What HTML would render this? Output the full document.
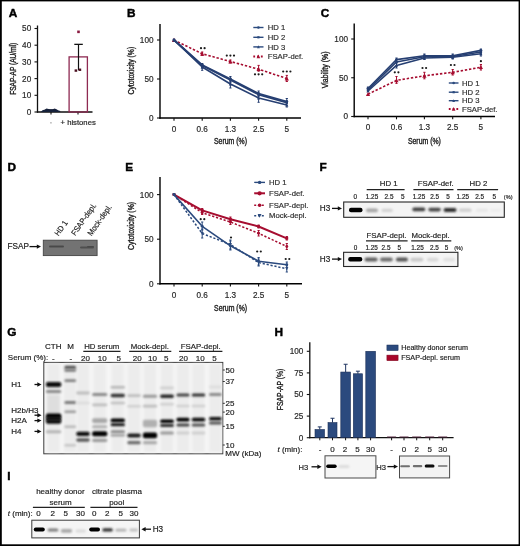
<!DOCTYPE html>
<html><head><meta charset="utf-8"><style>
html,body{margin:0;padding:0;background:#fff;}
svg{display:block;font-family:"Liberation Sans", sans-serif;will-change:transform;-webkit-font-smoothing:antialiased;}
text{stroke:#262626;stroke-width:0.18px;}
</style></head><body>
<svg width="520" height="546" viewBox="0 0 520 546">
<defs>
<filter id="b1" x="-20%" y="-100%" width="140%" height="300%"><feGaussianBlur stdDeviation="0.7"/></filter>
<filter id="b2" x="-20%" y="-100%" width="140%" height="300%"><feGaussianBlur stdDeviation="1.1"/></filter>
<filter id="b3" x="-30%" y="-100%" width="160%" height="300%"><feGaussianBlur stdDeviation="1.6"/></filter>
</defs>
<rect x="0" y="0" width="520" height="546" fill="#fff"/>
<text x="8.8" y="17.4" font-size="11.8" text-anchor="start" font-weight="bold" fill="#000" style="stroke:#000;stroke-width:0.45px">A</text>
<line x1="37.5" y1="25.5" x2="37.5" y2="112.6" stroke="#111" stroke-width="1.3" />
<line x1="34.5" y1="112.0" x2="37.5" y2="112.0" stroke="#111" stroke-width="1.1" />
<text x="31.2" y="114.91" font-size="8.2" text-anchor="end" font-weight="normal" fill="#2a2a2a" >0</text>
<line x1="34.5" y1="95.3" x2="37.5" y2="95.3" stroke="#111" stroke-width="1.1" />
<text x="31.2" y="98.21" font-size="8.2" text-anchor="end" font-weight="normal" fill="#2a2a2a" >10</text>
<line x1="34.5" y1="78.6" x2="37.5" y2="78.6" stroke="#111" stroke-width="1.1" />
<text x="31.2" y="81.51" font-size="8.2" text-anchor="end" font-weight="normal" fill="#2a2a2a" >20</text>
<line x1="34.5" y1="61.9" x2="37.5" y2="61.9" stroke="#111" stroke-width="1.1" />
<text x="31.2" y="64.81" font-size="8.2" text-anchor="end" font-weight="normal" fill="#2a2a2a" >30</text>
<line x1="34.5" y1="45.2" x2="37.5" y2="45.2" stroke="#111" stroke-width="1.1" />
<text x="31.2" y="48.11" font-size="8.2" text-anchor="end" font-weight="normal" fill="#2a2a2a" >40</text>
<line x1="34.5" y1="28.5" x2="37.5" y2="28.5" stroke="#111" stroke-width="1.1" />
<text x="31.2" y="31.41" font-size="8.2" text-anchor="end" font-weight="normal" fill="#2a2a2a" >50</text>
<line x1="36.9" y1="112" x2="92.5" y2="112" stroke="#111" stroke-width="1.3" />
<line x1="51" y1="112" x2="51" y2="114.6" stroke="#111" stroke-width="1.1" />
<line x1="78" y1="112" x2="78" y2="114.6" stroke="#111" stroke-width="1.1" />
<text x="0" y="0" font-size="8.2" text-anchor="middle" fill="#1a1a1a" style="stroke:#1a1a1a;stroke-width:0.35px" transform="translate(15.91,68.8) rotate(-90)" textLength="52" lengthAdjust="spacingAndGlyphs">FSAP-AP (AU/ml)</text>
<rect x="50.3" y="122.3" width="1.3" height="1.1" fill="#888" stroke="none" stroke-width="1" />
<text x="60.5" y="125.2" font-size="7.7" text-anchor="start" font-weight="normal" fill="#222" >+ histones</text>
<rect x="69.1" y="56.89" width="18.3" height="55.11" fill="none" stroke="#8e2a52" stroke-width="1.3" />
<line x1="78.5" y1="44.364999999999995" x2="78.5" y2="70.25" stroke="#111" stroke-width="1.2" />
<line x1="74.3" y1="44.364999999999995" x2="82.8" y2="44.364999999999995" stroke="#111" stroke-width="1.3" />
<rect x="77.2" y="30.540000000000003" width="2.6" height="2.6" fill="#8a1a40" stroke="none" stroke-width="1" />
<rect x="74.6" y="69.384" width="2.6" height="2.4" fill="#4a1020" stroke="none" stroke-width="1" />
<rect x="78.6" y="68.54899999999999" width="2.6" height="2.4" fill="#4a1020" stroke="none" stroke-width="1" />
<path d="M40.8,112 L42.5,110.2 L45,109.6 L46.5,108.6 L48.5,108.9 L50,109.6 L52.5,109.6 L54.5,108.6 L56.5,109.2 L58,110.3 L60.3,111 L60.3,112 Z" fill="#16203a" filter="url(#b1)"/>
<line x1="45.5" y1="109.8" x2="56" y2="109.8" stroke="#16203a" stroke-width="1.2" />
<text x="126.9" y="17.2" font-size="11.8" text-anchor="start" font-weight="bold" fill="#000" style="stroke:#000;stroke-width:0.45px">B</text>
<line x1="160" y1="24" x2="160" y2="118.7" stroke="#000" stroke-width="1.4" />
<line x1="159.3" y1="118" x2="301" y2="118" stroke="#000" stroke-width="1.4" />
<line x1="157" y1="118.0" x2="160" y2="118.0" stroke="#111" stroke-width="1.1" />
<text x="153.5" y="120.91" font-size="8.2" text-anchor="end" font-weight="normal" fill="#2a2a2a" >0</text>
<line x1="157" y1="79.0" x2="160" y2="79.0" stroke="#111" stroke-width="1.1" />
<text x="153.5" y="81.91" font-size="8.2" text-anchor="end" font-weight="normal" fill="#2a2a2a" >50</text>
<line x1="157" y1="40.0" x2="160" y2="40.0" stroke="#111" stroke-width="1.1" />
<text x="153.5" y="42.91" font-size="8.2" text-anchor="end" font-weight="normal" fill="#2a2a2a" >100</text>
<line x1="174" y1="118" x2="174" y2="120.8" stroke="#111" stroke-width="1.1" />
<text x="174" y="132.11" font-size="8.2" text-anchor="middle" font-weight="normal" fill="#2a2a2a" >0</text>
<line x1="202.2" y1="118" x2="202.2" y2="120.8" stroke="#111" stroke-width="1.1" />
<text x="202.2" y="132.11" font-size="8.2" text-anchor="middle" font-weight="normal" fill="#2a2a2a" >0.6</text>
<line x1="230.4" y1="118" x2="230.4" y2="120.8" stroke="#111" stroke-width="1.1" />
<text x="230.4" y="132.11" font-size="8.2" text-anchor="middle" font-weight="normal" fill="#2a2a2a" >1.3</text>
<line x1="258.6" y1="118" x2="258.6" y2="120.8" stroke="#111" stroke-width="1.1" />
<text x="258.6" y="132.11" font-size="8.2" text-anchor="middle" font-weight="normal" fill="#2a2a2a" >2.5</text>
<line x1="286.8" y1="118" x2="286.8" y2="120.8" stroke="#111" stroke-width="1.1" />
<text x="286.8" y="132.11" font-size="8.2" text-anchor="middle" font-weight="normal" fill="#2a2a2a" >5</text>
<text x="0" y="0" font-size="8.2" text-anchor="middle" fill="#1a1a1a" style="stroke:#1a1a1a;stroke-width:0.35px" transform="translate(133.71,70.7) rotate(-90)" textLength="47.8" lengthAdjust="spacingAndGlyphs">Cytotoxicity (%)</text>
<polyline points="174.00,40.00 202.20,53.80 230.40,61.50 258.60,69.20 286.80,78.50" fill="none" stroke="#a60d30" stroke-width="1.6" stroke-linejoin="round" stroke-dasharray="2.4,1.8"/>
<line x1="202.2" y1="52" x2="202.2" y2="55.5" stroke="#a60d30" stroke-width="1.0" />
<line x1="201.1" y1="52" x2="203.29999999999998" y2="52" stroke="#a60d30" stroke-width="1.0" />
<line x1="201.1" y1="55.5" x2="203.29999999999998" y2="55.5" stroke="#a60d30" stroke-width="1.0" />
<line x1="230.4" y1="60" x2="230.4" y2="63" stroke="#a60d30" stroke-width="1.0" />
<line x1="229.3" y1="60" x2="231.5" y2="60" stroke="#a60d30" stroke-width="1.0" />
<line x1="229.3" y1="63" x2="231.5" y2="63" stroke="#a60d30" stroke-width="1.0" />
<line x1="258.6" y1="65.4" x2="258.6" y2="71.2" stroke="#a60d30" stroke-width="1.0" />
<line x1="257.5" y1="65.4" x2="259.70000000000005" y2="65.4" stroke="#a60d30" stroke-width="1.0" />
<line x1="257.5" y1="71.2" x2="259.70000000000005" y2="71.2" stroke="#a60d30" stroke-width="1.0" />
<line x1="286.8" y1="75.4" x2="286.8" y2="81.5" stroke="#a60d30" stroke-width="1.0" />
<line x1="285.7" y1="75.4" x2="287.90000000000003" y2="75.4" stroke="#a60d30" stroke-width="1.0" />
<line x1="285.7" y1="81.5" x2="287.90000000000003" y2="81.5" stroke="#a60d30" stroke-width="1.0" />
<path d="M171.92,41.92 L176.08,41.92 L174.00,37.76Z" fill="#a60d30"/>
<path d="M200.12,55.72 L204.28,55.72 L202.20,51.56Z" fill="#a60d30"/>
<path d="M228.32,63.42 L232.48,63.42 L230.40,59.26Z" fill="#a60d30"/>
<path d="M256.52,71.12 L260.68,71.12 L258.60,66.96Z" fill="#a60d30"/>
<path d="M284.72,80.42 L288.88,80.42 L286.80,76.26Z" fill="#a60d30"/>
<text x="230.5" y="144.21" font-size="8.2" text-anchor="middle" fill="#1a1a1a" style="stroke:#1a1a1a;stroke-width:0.35px" textLength="33" lengthAdjust="spacingAndGlyphs">Serum (%)</text>
<polyline points="174.00,40.00 202.20,65.00 230.40,79.00 258.60,93.50 286.80,101.50" fill="none" stroke="#263f72" stroke-width="1.7" stroke-linejoin="round" />
<line x1="202.2" y1="63.5" x2="202.2" y2="68" stroke="#263f72" stroke-width="1.0" />
<line x1="201.1" y1="63.5" x2="203.29999999999998" y2="63.5" stroke="#263f72" stroke-width="1.0" />
<line x1="201.1" y1="68" x2="203.29999999999998" y2="68" stroke="#263f72" stroke-width="1.0" />
<line x1="230.4" y1="76.5" x2="230.4" y2="82" stroke="#263f72" stroke-width="1.0" />
<line x1="229.3" y1="76.5" x2="231.5" y2="76.5" stroke="#263f72" stroke-width="1.0" />
<line x1="229.3" y1="82" x2="231.5" y2="82" stroke="#263f72" stroke-width="1.0" />
<line x1="258.6" y1="91" x2="258.6" y2="96" stroke="#263f72" stroke-width="1.0" />
<line x1="257.5" y1="91" x2="259.70000000000005" y2="91" stroke="#263f72" stroke-width="1.0" />
<line x1="257.5" y1="96" x2="259.70000000000005" y2="96" stroke="#263f72" stroke-width="1.0" />
<line x1="286.8" y1="98.5" x2="286.8" y2="103" stroke="#263f72" stroke-width="1.0" />
<line x1="285.7" y1="98.5" x2="287.90000000000003" y2="98.5" stroke="#263f72" stroke-width="1.0" />
<line x1="285.7" y1="103" x2="287.90000000000003" y2="103" stroke="#263f72" stroke-width="1.0" />
<circle cx="174" cy="40" r="1.44" fill="#263f72"/>
<circle cx="202.2" cy="65" r="1.44" fill="#263f72"/>
<circle cx="230.4" cy="79" r="1.44" fill="#263f72"/>
<circle cx="258.6" cy="93.5" r="1.44" fill="#263f72"/>
<circle cx="286.8" cy="101.5" r="1.44" fill="#263f72"/>
<polyline points="174.00,40.00 202.20,65.60 230.40,79.90 258.60,94.60 286.80,102.60" fill="none" stroke="#263f72" stroke-width="1.7" stroke-linejoin="round" />
<rect x="172.80" y="38.80" width="2.4" height="2.4" fill="#263f72"/>
<rect x="201.00" y="64.40" width="2.4" height="2.4" fill="#263f72"/>
<rect x="229.20" y="78.70" width="2.4" height="2.4" fill="#263f72"/>
<rect x="257.40" y="93.40" width="2.4" height="2.4" fill="#263f72"/>
<rect x="285.60" y="101.40" width="2.4" height="2.4" fill="#263f72"/>
<polyline points="174.00,40.00 202.20,67.00 230.40,84.00 258.60,98.00 286.80,105.00" fill="none" stroke="#263f72" stroke-width="1.6" stroke-linejoin="round" />
<line x1="202.2" y1="65" x2="202.2" y2="70.3" stroke="#263f72" stroke-width="1.0" />
<line x1="201.1" y1="65" x2="203.29999999999998" y2="65" stroke="#263f72" stroke-width="1.0" />
<line x1="201.1" y1="70.3" x2="203.29999999999998" y2="70.3" stroke="#263f72" stroke-width="1.0" />
<line x1="230.4" y1="82" x2="230.4" y2="88" stroke="#263f72" stroke-width="1.0" />
<line x1="229.3" y1="82" x2="231.5" y2="82" stroke="#263f72" stroke-width="1.0" />
<line x1="229.3" y1="88" x2="231.5" y2="88" stroke="#263f72" stroke-width="1.0" />
<line x1="258.6" y1="96" x2="258.6" y2="102.3" stroke="#263f72" stroke-width="1.0" />
<line x1="257.5" y1="96" x2="259.70000000000005" y2="96" stroke="#263f72" stroke-width="1.0" />
<line x1="257.5" y1="102.3" x2="259.70000000000005" y2="102.3" stroke="#263f72" stroke-width="1.0" />
<line x1="286.8" y1="102" x2="286.8" y2="107" stroke="#263f72" stroke-width="1.0" />
<line x1="285.7" y1="102" x2="287.90000000000003" y2="102" stroke="#263f72" stroke-width="1.0" />
<line x1="285.7" y1="107" x2="287.90000000000003" y2="107" stroke="#263f72" stroke-width="1.0" />
<path d="M172.44,41.44 L175.56,41.44 L174.00,38.32Z" fill="#263f72"/>
<path d="M200.64,68.44 L203.76,68.44 L202.20,65.32Z" fill="#263f72"/>
<path d="M228.84,85.44 L231.96,85.44 L230.40,82.32Z" fill="#263f72"/>
<path d="M257.04,99.44 L260.16,99.44 L258.60,96.32Z" fill="#263f72"/>
<path d="M285.24,106.44 L288.36,106.44 L286.80,103.32Z" fill="#263f72"/>
<circle cx="201.00" cy="48.2" r="1.1" fill="#1a1a1a"/>
<circle cx="204.60" cy="48.2" r="1.1" fill="#1a1a1a"/>
<circle cx="226.80" cy="55.6" r="1.1" fill="#1a1a1a"/>
<circle cx="230.40" cy="55.6" r="1.1" fill="#1a1a1a"/>
<circle cx="234.00" cy="55.6" r="1.1" fill="#1a1a1a"/>
<circle cx="255.00" cy="74.3" r="1.1" fill="#1a1a1a"/>
<circle cx="258.60" cy="74.3" r="1.1" fill="#1a1a1a"/>
<circle cx="262.20" cy="74.3" r="1.1" fill="#1a1a1a"/>
<circle cx="283.20" cy="71.5" r="1.1" fill="#1a1a1a"/>
<circle cx="286.80" cy="71.5" r="1.1" fill="#1a1a1a"/>
<circle cx="290.40" cy="71.5" r="1.1" fill="#1a1a1a"/>
<line x1="253.3" y1="27.5" x2="263.5" y2="27.5" stroke="#2b4a7e" stroke-width="1.4" />
<circle cx="258.4" cy="27.5" r="1.32" fill="#2b4a7e"/>
<text x="267.8" y="30.23" font-size="7.7" text-anchor="start" font-weight="normal" fill="#333" >HD 1</text>
<line x1="253.3" y1="37.3" x2="263.5" y2="37.3" stroke="#2b4a7e" stroke-width="1.4" />
<rect x="257.30" y="36.20" width="2.2" height="2.2" fill="#2b4a7e"/>
<text x="267.8" y="40.03" font-size="7.7" text-anchor="start" font-weight="normal" fill="#333" >HD 2</text>
<line x1="253.3" y1="46.9" x2="263.5" y2="46.9" stroke="#2b4a7e" stroke-width="1.4" />
<path d="M256.97,48.22 L259.83,48.22 L258.40,45.36Z" fill="#2b4a7e"/>
<text x="267.8" y="49.63" font-size="7.7" text-anchor="start" font-weight="normal" fill="#333" >HD 3</text>
<line x1="253.3" y1="56.5" x2="263.5" y2="56.5" stroke="#a60d30" stroke-width="1.8" stroke-dasharray="1.8,2"/>
<path d="M256.58,58.18 L260.22,58.18 L258.40,54.54Z" fill="#a60d30"/>
<text x="267.8" y="59.23" font-size="7.7" text-anchor="start" font-weight="normal" fill="#333" >FSAP-def.</text>
<text x="320.8" y="17.3" font-size="11.8" text-anchor="start" font-weight="bold" fill="#000" style="stroke:#000;stroke-width:0.45px">C</text>
<line x1="354.2" y1="23.5" x2="354.2" y2="117.2" stroke="#000" stroke-width="1.4" />
<line x1="353.5" y1="116.5" x2="495" y2="116.5" stroke="#000" stroke-width="1.4" />
<line x1="351.2" y1="116.5" x2="354.2" y2="116.5" stroke="#111" stroke-width="1.1" />
<text x="348" y="119.41" font-size="8.2" text-anchor="end" font-weight="normal" fill="#2a2a2a" >0</text>
<line x1="351.2" y1="77.75" x2="354.2" y2="77.75" stroke="#111" stroke-width="1.1" />
<text x="348" y="80.66" font-size="8.2" text-anchor="end" font-weight="normal" fill="#2a2a2a" >50</text>
<line x1="351.2" y1="39.0" x2="354.2" y2="39.0" stroke="#111" stroke-width="1.1" />
<text x="348" y="41.91" font-size="8.2" text-anchor="end" font-weight="normal" fill="#2a2a2a" >100</text>
<line x1="368" y1="116.5" x2="368" y2="119.3" stroke="#111" stroke-width="1.1" />
<text x="368" y="130.31" font-size="8.2" text-anchor="middle" font-weight="normal" fill="#2a2a2a" >0</text>
<line x1="396.5" y1="116.5" x2="396.5" y2="119.3" stroke="#111" stroke-width="1.1" />
<text x="396.5" y="130.31" font-size="8.2" text-anchor="middle" font-weight="normal" fill="#2a2a2a" >0.6</text>
<line x1="424.4" y1="116.5" x2="424.4" y2="119.3" stroke="#111" stroke-width="1.1" />
<text x="424.4" y="130.31" font-size="8.2" text-anchor="middle" font-weight="normal" fill="#2a2a2a" >1.3</text>
<line x1="452.7" y1="116.5" x2="452.7" y2="119.3" stroke="#111" stroke-width="1.1" />
<text x="452.7" y="130.31" font-size="8.2" text-anchor="middle" font-weight="normal" fill="#2a2a2a" >2.5</text>
<line x1="480.9" y1="116.5" x2="480.9" y2="119.3" stroke="#111" stroke-width="1.1" />
<text x="480.9" y="130.31" font-size="8.2" text-anchor="middle" font-weight="normal" fill="#2a2a2a" >5</text>
<text x="0" y="0" font-size="8.2" text-anchor="middle" fill="#1a1a1a" style="stroke:#1a1a1a;stroke-width:0.35px" transform="translate(328.01,69.8) rotate(-90)" textLength="37" lengthAdjust="spacingAndGlyphs">Viability (%)</text>
<text x="424.4" y="144.21" font-size="8.2" text-anchor="middle" fill="#1a1a1a" style="stroke:#1a1a1a;stroke-width:0.35px" textLength="33" lengthAdjust="spacingAndGlyphs">Serum (%)</text>
<polyline points="368.00,88.50 396.50,59.60 424.40,55.70 452.70,55.70 480.90,50.40" fill="none" stroke="#263f72" stroke-width="1.6" stroke-linejoin="round" />
<line x1="368" y1="87" x2="368" y2="91" stroke="#263f72" stroke-width="1.0" />
<line x1="366.9" y1="87" x2="369.1" y2="87" stroke="#263f72" stroke-width="1.0" />
<line x1="366.9" y1="91" x2="369.1" y2="91" stroke="#263f72" stroke-width="1.0" />
<line x1="396.5" y1="58" x2="396.5" y2="62" stroke="#263f72" stroke-width="1.0" />
<line x1="395.4" y1="58" x2="397.6" y2="58" stroke="#263f72" stroke-width="1.0" />
<line x1="395.4" y1="62" x2="397.6" y2="62" stroke="#263f72" stroke-width="1.0" />
<line x1="424.4" y1="54" x2="424.4" y2="58" stroke="#263f72" stroke-width="1.0" />
<line x1="423.29999999999995" y1="54" x2="425.5" y2="54" stroke="#263f72" stroke-width="1.0" />
<line x1="423.29999999999995" y1="58" x2="425.5" y2="58" stroke="#263f72" stroke-width="1.0" />
<line x1="452.7" y1="54" x2="452.7" y2="58" stroke="#263f72" stroke-width="1.0" />
<line x1="451.59999999999997" y1="54" x2="453.8" y2="54" stroke="#263f72" stroke-width="1.0" />
<line x1="451.59999999999997" y1="58" x2="453.8" y2="58" stroke="#263f72" stroke-width="1.0" />
<line x1="480.9" y1="49" x2="480.9" y2="54" stroke="#263f72" stroke-width="1.0" />
<line x1="479.79999999999995" y1="49" x2="482.0" y2="49" stroke="#263f72" stroke-width="1.0" />
<line x1="479.79999999999995" y1="54" x2="482.0" y2="54" stroke="#263f72" stroke-width="1.0" />
<circle cx="368" cy="88.5" r="1.44" fill="#263f72"/>
<circle cx="396.5" cy="59.6" r="1.44" fill="#263f72"/>
<circle cx="424.4" cy="55.7" r="1.44" fill="#263f72"/>
<circle cx="452.7" cy="55.7" r="1.44" fill="#263f72"/>
<circle cx="480.9" cy="50.4" r="1.44" fill="#263f72"/>
<polyline points="368.00,89.80 396.50,62.00 424.40,56.80 452.70,56.50 480.90,52.00" fill="none" stroke="#263f72" stroke-width="1.6" stroke-linejoin="round" />
<rect x="366.80" y="88.60" width="2.4" height="2.4" fill="#263f72"/>
<rect x="395.30" y="60.80" width="2.4" height="2.4" fill="#263f72"/>
<rect x="423.20" y="55.60" width="2.4" height="2.4" fill="#263f72"/>
<rect x="451.50" y="55.30" width="2.4" height="2.4" fill="#263f72"/>
<rect x="479.70" y="50.80" width="2.4" height="2.4" fill="#263f72"/>
<polyline points="368.00,91.00 396.50,65.40 424.40,58.00 452.70,57.30 480.90,53.80" fill="none" stroke="#263f72" stroke-width="1.6" stroke-linejoin="round" />
<line x1="396.5" y1="63" x2="396.5" y2="68" stroke="#263f72" stroke-width="1.0" />
<line x1="395.4" y1="63" x2="397.6" y2="63" stroke="#263f72" stroke-width="1.0" />
<line x1="395.4" y1="68" x2="397.6" y2="68" stroke="#263f72" stroke-width="1.0" />
<line x1="424.4" y1="56" x2="424.4" y2="59.5" stroke="#263f72" stroke-width="1.0" />
<line x1="423.29999999999995" y1="56" x2="425.5" y2="56" stroke="#263f72" stroke-width="1.0" />
<line x1="423.29999999999995" y1="59.5" x2="425.5" y2="59.5" stroke="#263f72" stroke-width="1.0" />
<line x1="452.7" y1="55.5" x2="452.7" y2="59" stroke="#263f72" stroke-width="1.0" />
<line x1="451.59999999999997" y1="55.5" x2="453.8" y2="55.5" stroke="#263f72" stroke-width="1.0" />
<line x1="451.59999999999997" y1="59" x2="453.8" y2="59" stroke="#263f72" stroke-width="1.0" />
<line x1="480.9" y1="51" x2="480.9" y2="56" stroke="#263f72" stroke-width="1.0" />
<line x1="479.79999999999995" y1="51" x2="482.0" y2="51" stroke="#263f72" stroke-width="1.0" />
<line x1="479.79999999999995" y1="56" x2="482.0" y2="56" stroke="#263f72" stroke-width="1.0" />
<path d="M366.44,92.44 L369.56,92.44 L368.00,89.32Z" fill="#263f72"/>
<path d="M394.94,66.84 L398.06,66.84 L396.50,63.72Z" fill="#263f72"/>
<path d="M422.84,59.44 L425.96,59.44 L424.40,56.32Z" fill="#263f72"/>
<path d="M451.14,58.74 L454.26,58.74 L452.70,55.62Z" fill="#263f72"/>
<path d="M479.34,55.24 L482.46,55.24 L480.90,52.12Z" fill="#263f72"/>
<polyline points="368.00,94.20 396.50,80.40 424.40,75.80 452.70,72.30 480.90,67.20" fill="none" stroke="#a60d30" stroke-width="1.6" stroke-linejoin="round" stroke-dasharray="2.4,1.8"/>
<line x1="396.5" y1="76.5" x2="396.5" y2="83.4" stroke="#a60d30" stroke-width="1.0" />
<line x1="395.4" y1="76.5" x2="397.6" y2="76.5" stroke="#a60d30" stroke-width="1.0" />
<line x1="395.4" y1="83.4" x2="397.6" y2="83.4" stroke="#a60d30" stroke-width="1.0" />
<line x1="424.4" y1="72.3" x2="424.4" y2="78.8" stroke="#a60d30" stroke-width="1.0" />
<line x1="423.29999999999995" y1="72.3" x2="425.5" y2="72.3" stroke="#a60d30" stroke-width="1.0" />
<line x1="423.29999999999995" y1="78.8" x2="425.5" y2="78.8" stroke="#a60d30" stroke-width="1.0" />
<line x1="452.7" y1="69.5" x2="452.7" y2="75" stroke="#a60d30" stroke-width="1.0" />
<line x1="451.59999999999997" y1="69.5" x2="453.8" y2="69.5" stroke="#a60d30" stroke-width="1.0" />
<line x1="451.59999999999997" y1="75" x2="453.8" y2="75" stroke="#a60d30" stroke-width="1.0" />
<line x1="480.9" y1="64.5" x2="480.9" y2="70" stroke="#a60d30" stroke-width="1.0" />
<line x1="479.79999999999995" y1="64.5" x2="482.0" y2="64.5" stroke="#a60d30" stroke-width="1.0" />
<line x1="479.79999999999995" y1="70" x2="482.0" y2="70" stroke="#a60d30" stroke-width="1.0" />
<path d="M365.92,96.12 L370.08,96.12 L368.00,91.96Z" fill="#a60d30"/>
<path d="M394.42,82.32 L398.58,82.32 L396.50,78.16Z" fill="#a60d30"/>
<path d="M422.32,77.72 L426.48,77.72 L424.40,73.56Z" fill="#a60d30"/>
<path d="M450.62,74.22 L454.78,74.22 L452.70,70.06Z" fill="#a60d30"/>
<path d="M478.82,69.12 L482.98,69.12 L480.90,64.96Z" fill="#a60d30"/>
<circle cx="394.80" cy="72.3" r="1.1" fill="#1a1a1a"/>
<circle cx="398.40" cy="72.3" r="1.1" fill="#1a1a1a"/>
<circle cx="422.50" cy="68" r="1.1" fill="#1a1a1a"/>
<circle cx="426.10" cy="68" r="1.1" fill="#1a1a1a"/>
<circle cx="450.90" cy="65" r="1.1" fill="#1a1a1a"/>
<circle cx="454.50" cy="65" r="1.1" fill="#1a1a1a"/>
<circle cx="480.90" cy="61.2" r="1.1" fill="#1a1a1a"/>
<line x1="448.8" y1="83.0" x2="458.5" y2="83.0" stroke="#2b4a7e" stroke-width="1.4" />
<circle cx="453.65" cy="83.0" r="1.32" fill="#2b4a7e"/>
<text x="462" y="85.73" font-size="7.7" text-anchor="start" font-weight="normal" fill="#333" >HD 1</text>
<line x1="448.8" y1="92.2" x2="458.5" y2="92.2" stroke="#2b4a7e" stroke-width="1.4" />
<rect x="452.55" y="91.10" width="2.2" height="2.2" fill="#2b4a7e"/>
<text x="462" y="94.93" font-size="7.7" text-anchor="start" font-weight="normal" fill="#333" >HD 2</text>
<line x1="448.8" y1="100.7" x2="458.5" y2="100.7" stroke="#2b4a7e" stroke-width="1.4" />
<path d="M452.22,102.02 L455.08,102.02 L453.65,99.16Z" fill="#2b4a7e"/>
<text x="462" y="103.43" font-size="7.7" text-anchor="start" font-weight="normal" fill="#333" >HD 3</text>
<line x1="448.8" y1="109.0" x2="458.5" y2="109.0" stroke="#a60d30" stroke-width="1.8" stroke-dasharray="1.8,2"/>
<path d="M451.83,110.68 L455.47,110.68 L453.65,107.04Z" fill="#a60d30"/>
<text x="462" y="111.73" font-size="7.7" text-anchor="start" font-weight="normal" fill="#333" >FSAP-def.</text>
<text x="125.2" y="170.6" font-size="11.8" text-anchor="start" font-weight="bold" fill="#000" style="stroke:#000;stroke-width:0.45px">E</text>
<line x1="160" y1="177" x2="160" y2="284.5" stroke="#000" stroke-width="1.4" />
<line x1="159.3" y1="283.8" x2="302" y2="283.8" stroke="#000" stroke-width="1.4" />
<line x1="157" y1="283.8" x2="160" y2="283.8" stroke="#111" stroke-width="1.1" />
<text x="153.5" y="286.71" font-size="8.2" text-anchor="end" font-weight="normal" fill="#2a2a2a" >0</text>
<line x1="157" y1="239.20000000000002" x2="160" y2="239.20000000000002" stroke="#111" stroke-width="1.1" />
<text x="153.5" y="242.11" font-size="8.2" text-anchor="end" font-weight="normal" fill="#2a2a2a" >50</text>
<line x1="157" y1="194.60000000000002" x2="160" y2="194.60000000000002" stroke="#111" stroke-width="1.1" />
<text x="153.5" y="197.51" font-size="8.2" text-anchor="end" font-weight="normal" fill="#2a2a2a" >100</text>
<line x1="174" y1="283.8" x2="174" y2="286.6" stroke="#111" stroke-width="1.1" />
<text x="174" y="297.51" font-size="8.2" text-anchor="middle" font-weight="normal" fill="#2a2a2a" >0</text>
<line x1="202.2" y1="283.8" x2="202.2" y2="286.6" stroke="#111" stroke-width="1.1" />
<text x="202.2" y="297.51" font-size="8.2" text-anchor="middle" font-weight="normal" fill="#2a2a2a" >0.6</text>
<line x1="230.4" y1="283.8" x2="230.4" y2="286.6" stroke="#111" stroke-width="1.1" />
<text x="230.4" y="297.51" font-size="8.2" text-anchor="middle" font-weight="normal" fill="#2a2a2a" >1.3</text>
<line x1="258.6" y1="283.8" x2="258.6" y2="286.6" stroke="#111" stroke-width="1.1" />
<text x="258.6" y="297.51" font-size="8.2" text-anchor="middle" font-weight="normal" fill="#2a2a2a" >2.5</text>
<line x1="286.8" y1="283.8" x2="286.8" y2="286.6" stroke="#111" stroke-width="1.1" />
<text x="286.8" y="297.51" font-size="8.2" text-anchor="middle" font-weight="normal" fill="#2a2a2a" >5</text>
<text x="0" y="0" font-size="8.2" text-anchor="middle" fill="#1a1a1a" style="stroke:#1a1a1a;stroke-width:0.35px" transform="translate(133.51,225.9) rotate(-90)" textLength="48" lengthAdjust="spacingAndGlyphs">Cytotoxicity (%)</text>
<text x="230.6" y="310.71" font-size="8.2" text-anchor="middle" fill="#1a1a1a" style="stroke:#1a1a1a;stroke-width:0.35px" textLength="33" lengthAdjust="spacingAndGlyphs">Serum (%)</text>
<polyline points="174.00,194.60 202.20,210.40 230.40,219.20 258.60,226.50 286.80,238.30" fill="none" stroke="#a60d30" stroke-width="2.0" stroke-linejoin="round" />
<line x1="202.2" y1="208.5" x2="202.2" y2="212.5" stroke="#a60d30" stroke-width="1.0" />
<line x1="201.1" y1="208.5" x2="203.29999999999998" y2="208.5" stroke="#a60d30" stroke-width="1.0" />
<line x1="201.1" y1="212.5" x2="203.29999999999998" y2="212.5" stroke="#a60d30" stroke-width="1.0" />
<line x1="230.4" y1="217" x2="230.4" y2="221.5" stroke="#a60d30" stroke-width="1.0" />
<line x1="229.3" y1="217" x2="231.5" y2="217" stroke="#a60d30" stroke-width="1.0" />
<line x1="229.3" y1="221.5" x2="231.5" y2="221.5" stroke="#a60d30" stroke-width="1.0" />
<line x1="258.6" y1="225" x2="258.6" y2="228" stroke="#a60d30" stroke-width="1.0" />
<line x1="257.5" y1="225" x2="259.70000000000005" y2="225" stroke="#a60d30" stroke-width="1.0" />
<line x1="257.5" y1="228" x2="259.70000000000005" y2="228" stroke="#a60d30" stroke-width="1.0" />
<line x1="286.8" y1="236.5" x2="286.8" y2="240" stroke="#a60d30" stroke-width="1.0" />
<line x1="285.7" y1="236.5" x2="287.90000000000003" y2="236.5" stroke="#a60d30" stroke-width="1.0" />
<line x1="285.7" y1="240" x2="287.90000000000003" y2="240" stroke="#a60d30" stroke-width="1.0" />
<rect x="172.60" y="193.20" width="2.8" height="2.8" fill="#a60d30"/>
<rect x="200.80" y="209.00" width="2.8" height="2.8" fill="#a60d30"/>
<rect x="229.00" y="217.80" width="2.8" height="2.8" fill="#a60d30"/>
<rect x="257.20" y="225.10" width="2.8" height="2.8" fill="#a60d30"/>
<rect x="285.40" y="236.90" width="2.8" height="2.8" fill="#a60d30"/>
<polyline points="174.00,194.60 202.20,212.70 230.40,222.00 258.60,233.30 286.80,246.50" fill="none" stroke="#a60d30" stroke-width="1.5" stroke-linejoin="round" stroke-dasharray="2.2,1.8"/>
<line x1="202.2" y1="211" x2="202.2" y2="214.5" stroke="#a60d30" stroke-width="1.0" />
<line x1="201.1" y1="211" x2="203.29999999999998" y2="211" stroke="#a60d30" stroke-width="1.0" />
<line x1="201.1" y1="214.5" x2="203.29999999999998" y2="214.5" stroke="#a60d30" stroke-width="1.0" />
<line x1="230.4" y1="220" x2="230.4" y2="224.5" stroke="#a60d30" stroke-width="1.0" />
<line x1="229.3" y1="220" x2="231.5" y2="220" stroke="#a60d30" stroke-width="1.0" />
<line x1="229.3" y1="224.5" x2="231.5" y2="224.5" stroke="#a60d30" stroke-width="1.0" />
<line x1="258.6" y1="230.5" x2="258.6" y2="236" stroke="#a60d30" stroke-width="1.0" />
<line x1="257.5" y1="230.5" x2="259.70000000000005" y2="230.5" stroke="#a60d30" stroke-width="1.0" />
<line x1="257.5" y1="236" x2="259.70000000000005" y2="236" stroke="#a60d30" stroke-width="1.0" />
<line x1="286.8" y1="243.5" x2="286.8" y2="249.5" stroke="#a60d30" stroke-width="1.0" />
<line x1="285.7" y1="243.5" x2="287.90000000000003" y2="243.5" stroke="#a60d30" stroke-width="1.0" />
<line x1="285.7" y1="249.5" x2="287.90000000000003" y2="249.5" stroke="#a60d30" stroke-width="1.0" />
<circle cx="174" cy="194.6" r="1.44" fill="#a60d30"/>
<circle cx="202.2" cy="212.7" r="1.44" fill="#a60d30"/>
<circle cx="230.4" cy="222" r="1.44" fill="#a60d30"/>
<circle cx="258.6" cy="233.3" r="1.44" fill="#a60d30"/>
<circle cx="286.8" cy="246.5" r="1.44" fill="#a60d30"/>
<polyline points="174.00,194.60 202.20,226.30 230.40,245.80 258.60,261.20 286.80,264.70" fill="none" stroke="#2b4a7e" stroke-width="1.6" stroke-linejoin="round" />
<line x1="202.2" y1="222" x2="202.2" y2="230" stroke="#2b4a7e" stroke-width="1.0" />
<line x1="201.1" y1="222" x2="203.29999999999998" y2="222" stroke="#2b4a7e" stroke-width="1.0" />
<line x1="201.1" y1="230" x2="203.29999999999998" y2="230" stroke="#2b4a7e" stroke-width="1.0" />
<line x1="230.4" y1="241" x2="230.4" y2="250" stroke="#2b4a7e" stroke-width="1.0" />
<line x1="229.3" y1="241" x2="231.5" y2="241" stroke="#2b4a7e" stroke-width="1.0" />
<line x1="229.3" y1="250" x2="231.5" y2="250" stroke="#2b4a7e" stroke-width="1.0" />
<line x1="258.6" y1="257.5" x2="258.6" y2="265" stroke="#2b4a7e" stroke-width="1.0" />
<line x1="257.5" y1="257.5" x2="259.70000000000005" y2="257.5" stroke="#2b4a7e" stroke-width="1.0" />
<line x1="257.5" y1="265" x2="259.70000000000005" y2="265" stroke="#2b4a7e" stroke-width="1.0" />
<line x1="286.8" y1="262" x2="286.8" y2="267.5" stroke="#2b4a7e" stroke-width="1.0" />
<line x1="285.7" y1="262" x2="287.90000000000003" y2="262" stroke="#2b4a7e" stroke-width="1.0" />
<line x1="285.7" y1="267.5" x2="287.90000000000003" y2="267.5" stroke="#2b4a7e" stroke-width="1.0" />
<circle cx="174" cy="194.6" r="1.44" fill="#2b4a7e"/>
<circle cx="202.2" cy="226.3" r="1.44" fill="#2b4a7e"/>
<circle cx="230.4" cy="245.8" r="1.44" fill="#2b4a7e"/>
<circle cx="258.6" cy="261.2" r="1.44" fill="#2b4a7e"/>
<circle cx="286.8" cy="264.7" r="1.44" fill="#2b4a7e"/>
<polyline points="174.00,194.60 202.20,233.50 230.40,244.50 258.60,262.60 286.80,268.80" fill="none" stroke="#2b4a7e" stroke-width="1.5" stroke-linejoin="round" stroke-dasharray="2.2,1.8"/>
<line x1="202.2" y1="229" x2="202.2" y2="238" stroke="#2b4a7e" stroke-width="1.0" />
<line x1="201.1" y1="229" x2="203.29999999999998" y2="229" stroke="#2b4a7e" stroke-width="1.0" />
<line x1="201.1" y1="238" x2="203.29999999999998" y2="238" stroke="#2b4a7e" stroke-width="1.0" />
<line x1="230.4" y1="240" x2="230.4" y2="249" stroke="#2b4a7e" stroke-width="1.0" />
<line x1="229.3" y1="240" x2="231.5" y2="240" stroke="#2b4a7e" stroke-width="1.0" />
<line x1="229.3" y1="249" x2="231.5" y2="249" stroke="#2b4a7e" stroke-width="1.0" />
<line x1="258.6" y1="259" x2="258.6" y2="266" stroke="#2b4a7e" stroke-width="1.0" />
<line x1="257.5" y1="259" x2="259.70000000000005" y2="259" stroke="#2b4a7e" stroke-width="1.0" />
<line x1="257.5" y1="266" x2="259.70000000000005" y2="266" stroke="#2b4a7e" stroke-width="1.0" />
<line x1="286.8" y1="265" x2="286.8" y2="272" stroke="#2b4a7e" stroke-width="1.0" />
<line x1="285.7" y1="265" x2="287.90000000000003" y2="265" stroke="#2b4a7e" stroke-width="1.0" />
<line x1="285.7" y1="272" x2="287.90000000000003" y2="272" stroke="#2b4a7e" stroke-width="1.0" />
<path d="M172.44,193.16 L175.56,193.16 L174.00,196.28Z" fill="#2b4a7e"/>
<path d="M200.64,232.06 L203.76,232.06 L202.20,235.18Z" fill="#2b4a7e"/>
<path d="M228.84,243.06 L231.96,243.06 L230.40,246.18Z" fill="#2b4a7e"/>
<path d="M257.04,261.16 L260.16,261.16 L258.60,264.28Z" fill="#2b4a7e"/>
<path d="M285.24,267.36 L288.36,267.36 L286.80,270.48Z" fill="#2b4a7e"/>
<circle cx="200.70" cy="219.2" r="1.1" fill="#1a1a1a"/>
<circle cx="204.30" cy="219.2" r="1.1" fill="#1a1a1a"/>
<circle cx="231.00" cy="237.5" r="1.1" fill="#1a1a1a"/>
<circle cx="257.20" cy="251.5" r="1.1" fill="#1a1a1a"/>
<circle cx="260.80" cy="251.5" r="1.1" fill="#1a1a1a"/>
<circle cx="285.70" cy="259" r="1.1" fill="#1a1a1a"/>
<circle cx="289.30" cy="259" r="1.1" fill="#1a1a1a"/>
<line x1="254.2" y1="182.4" x2="265" y2="182.4" stroke="#2b4a7e" stroke-width="1.4" />
<circle cx="259.6" cy="182.4" r="1.68" fill="#2b4a7e"/>
<text x="269" y="185.13" font-size="7.7" text-anchor="start" font-weight="normal" fill="#333" >HD 1</text>
<line x1="254.2" y1="193.3" x2="265" y2="193.3" stroke="#a60d30" stroke-width="2.0" />
<circle cx="259.6" cy="193.3" r="2.16" fill="#a60d30"/>
<text x="269" y="196.03" font-size="7.7" text-anchor="start" font-weight="normal" fill="#333" >FSAP-def.</text>
<line x1="254.2" y1="205.2" x2="265" y2="205.2" stroke="#a60d30" stroke-width="1.6" stroke-dasharray="2,1.8"/>
<circle cx="259.6" cy="205.2" r="1.80" fill="#a60d30"/>
<text x="269" y="207.93" font-size="7.7" text-anchor="start" font-weight="normal" fill="#333" >FSAP-depl.</text>
<line x1="254.2" y1="215.7" x2="265" y2="215.7" stroke="#2b4a7e" stroke-width="1.6" stroke-dasharray="2,1.8"/>
<path d="M257.65,213.90 L261.55,213.90 L259.60,217.80Z" fill="#2b4a7e"/>
<text x="269" y="218.43" font-size="7.7" text-anchor="start" font-weight="normal" fill="#333" >Mock-depl.</text>
<text x="7.6" y="170.6" font-size="11.8" text-anchor="start" font-weight="bold" fill="#000" style="stroke:#000;stroke-width:0.45px">D</text>
<rect x="43.3" y="240.2" width="53.8" height="15.4" fill="#737373" stroke="#454545" stroke-width="0.9" />
<rect x="49.00" y="245.40" width="15.00" height="2.00" rx="1.00" fill="#4a4a4a" opacity="1.0" filter="url(#b1)"/>
<rect x="80.00" y="246.60" width="14.00" height="2.00" rx="1.00" fill="#505050" opacity="1.0" filter="url(#b1)"/>
<rect x="87.00" y="246.00" width="7.00" height="1.60" rx="0.80" fill="#4a4a4a" opacity="1.0" filter="url(#b1)"/>
<text x="7.6" y="249.41" font-size="8.2" text-anchor="start" font-weight="normal" fill="#222" >FSAP</text>
<line x1="29.5" y1="246.6" x2="38.5" y2="246.6" stroke="#111" stroke-width="1.3" />
<path d="M36.80,244.40 L41.00,246.60 L36.80,248.80Z" fill="#111"/>
<text transform="translate(58.5,236.5) rotate(-55) scale(0.92,1)" font-size="8.0" fill="#222">HD 1</text>
<text transform="translate(75.2,236.3) rotate(-55) scale(0.92,1)" font-size="8.0" fill="#222">FSAP-depl.</text>
<text transform="translate(91.5,236.5) rotate(-55) scale(0.92,1)" font-size="8.0" fill="#222">Mock-depl.</text>
<text x="319.6" y="170.6" font-size="11.8" text-anchor="start" font-weight="bold" fill="#000" style="stroke:#000;stroke-width:0.45px">F</text>
<text x="388.7" y="186.27" font-size="7.8" text-anchor="middle" font-weight="normal" fill="#222" >HD 1</text>
<line x1="366.7" y1="189.6" x2="404.6" y2="189.6" stroke="#222" stroke-width="1.3" />
<text x="435.8" y="186.27" font-size="7.8" text-anchor="middle" font-weight="normal" fill="#222" >FSAP-def.</text>
<line x1="413.4" y1="189.6" x2="453.5" y2="189.6" stroke="#222" stroke-width="1.3" />
<text x="478.5" y="186.27" font-size="7.8" text-anchor="middle" font-weight="normal" fill="#222" >HD 2</text>
<line x1="457.2" y1="189.6" x2="498.1" y2="189.6" stroke="#222" stroke-width="1.3" />
<text x="355.2" y="198.77" font-size="6.4" text-anchor="middle" font-weight="normal" fill="#222" >0</text>
<text x="372" y="198.77" font-size="6.4" text-anchor="middle" font-weight="normal" fill="#222" >1.25</text>
<text x="389" y="198.77" font-size="6.4" text-anchor="middle" font-weight="normal" fill="#222" >2.5</text>
<text x="402.7" y="198.77" font-size="6.4" text-anchor="middle" font-weight="normal" fill="#222" >5</text>
<text x="419" y="198.77" font-size="6.4" text-anchor="middle" font-weight="normal" fill="#222" >1.25</text>
<text x="434.6" y="198.77" font-size="6.4" text-anchor="middle" font-weight="normal" fill="#222" >2.5</text>
<text x="448" y="198.77" font-size="6.4" text-anchor="middle" font-weight="normal" fill="#222" >5</text>
<text x="462.8" y="198.77" font-size="6.4" text-anchor="middle" font-weight="normal" fill="#222" >1.25</text>
<text x="479.6" y="198.77" font-size="6.4" text-anchor="middle" font-weight="normal" fill="#222" >2.5</text>
<text x="494.2" y="198.77" font-size="6.4" text-anchor="middle" font-weight="normal" fill="#222" >5</text>
<rect x="343.7" y="202" width="160.6" height="15.3" fill="#f4f4f4" stroke="#262626" stroke-width="1.1" />
<rect x="349.00" y="207.80" width="13.50" height="4.40" rx="2.00" fill="#000" opacity="1.0" filter="url(#b1)"/>
<rect x="366.00" y="208.40" width="12.00" height="3.80" rx="1.90" fill="#a5a5a5" opacity="1.0" filter="url(#b2)"/>
<rect x="381.50" y="208.70" width="11.30" height="3.40" rx="1.70" fill="#d2d2d2" opacity="1.0" filter="url(#b2)"/>
<rect x="412.30" y="207.60" width="13.00" height="3.60" rx="1.80" fill="#3c3c3c" opacity="1.0" filter="url(#b2)"/>
<rect x="428.30" y="207.80" width="12.50" height="3.60" rx="1.80" fill="#454545" opacity="1.0" filter="url(#b2)"/>
<rect x="443.60" y="208.10" width="12.90" height="3.80" rx="1.90" fill="#2e2e2e" opacity="1.0" filter="url(#b2)"/>
<rect x="459.00" y="208.60" width="12.50" height="3.20" rx="1.60" fill="#cdcdcd" opacity="1.0" filter="url(#b2)"/>
<rect x="476.00" y="208.70" width="12.00" height="3.00" rx="1.50" fill="#e6e6e6" opacity="1.0" filter="url(#b2)"/>
<rect x="490.00" y="208.70" width="11.00" height="3.00" rx="1.50" fill="#ececec" opacity="1.0" filter="url(#b2)"/>
<text x="319.8" y="211.11" font-size="8.2" text-anchor="start" font-weight="normal" fill="#222" >H3</text>
<line x1="332" y1="208.4" x2="339.5" y2="208.4" stroke="#111" stroke-width="1.3" />
<path d="M337.80,206.20 L342.00,208.40 L337.80,210.60Z" fill="#111"/>
<text x="386.5" y="237.57" font-size="7.8" text-anchor="middle" font-weight="normal" fill="#222" >FSAP-depl.</text>
<line x1="366.0" y1="240.8" x2="407.6" y2="240.8" stroke="#222" stroke-width="1.3" />
<text x="430.6" y="237.57" font-size="7.8" text-anchor="middle" font-weight="normal" fill="#222" >Mock-depl.</text>
<line x1="411.2" y1="240.8" x2="451.3" y2="240.8" stroke="#222" stroke-width="1.3" />
<text x="355.5" y="250.27" font-size="6.4" text-anchor="middle" font-weight="normal" fill="#222" >0</text>
<text x="371.7" y="250.27" font-size="6.4" text-anchor="middle" font-weight="normal" fill="#222" >1.25</text>
<text x="386" y="250.27" font-size="6.4" text-anchor="middle" font-weight="normal" fill="#222" >2.5</text>
<text x="399.4" y="250.27" font-size="6.4" text-anchor="middle" font-weight="normal" fill="#222" >5</text>
<text x="417.5" y="250.27" font-size="6.4" text-anchor="middle" font-weight="normal" fill="#222" >1.25</text>
<text x="434.4" y="250.27" font-size="6.4" text-anchor="middle" font-weight="normal" fill="#222" >2.5</text>
<text x="446.5" y="250.27" font-size="6.4" text-anchor="middle" font-weight="normal" fill="#222" >5</text>
<text x="458.5" y="249.59" font-size="5.6" text-anchor="middle" font-weight="normal" fill="#333" >(%)</text>
<text x="508.2" y="198.59" font-size="5.6" text-anchor="middle" font-weight="normal" fill="#333" >(%)</text>
<rect x="343.6" y="252.3" width="114.3" height="14.2" fill="#f4f4f4" stroke="#262626" stroke-width="1.1" />
<rect x="348.20" y="257.10" width="14.10" height="4.40" rx="2.00" fill="#000" opacity="1.0" filter="url(#b1)"/>
<rect x="364.60" y="257.50" width="13.00" height="4.00" rx="2.00" fill="#5e5e5e" opacity="1.0" filter="url(#b2)"/>
<rect x="380.00" y="257.50" width="12.80" height="4.00" rx="2.00" fill="#6c6c6c" opacity="1.0" filter="url(#b2)"/>
<rect x="395.90" y="257.40" width="12.10" height="4.00" rx="2.00" fill="#555" opacity="1.0" filter="url(#b2)"/>
<rect x="410.40" y="257.70" width="12.90" height="3.80" rx="1.90" fill="#c8c8c8" opacity="1.0" filter="url(#b2)"/>
<rect x="426.90" y="257.70" width="11.70" height="3.80" rx="1.90" fill="#d8d8d8" opacity="1.0" filter="url(#b2)"/>
<rect x="443.30" y="257.70" width="11.70" height="3.80" rx="1.90" fill="#e0e0e0" opacity="1.0" filter="url(#b2)"/>
<text x="319.8" y="261.91" font-size="8.2" text-anchor="start" font-weight="normal" fill="#222" >H3</text>
<line x1="332" y1="259.1" x2="339.5" y2="259.1" stroke="#111" stroke-width="1.3" />
<path d="M337.80,256.90 L342.00,259.10 L337.80,261.30Z" fill="#111"/>
<text x="7.2" y="335.5" font-size="11.8" text-anchor="start" font-weight="bold" fill="#000" style="stroke:#000;stroke-width:0.45px">G</text>
<text x="53.3" y="349.44" font-size="8.0" text-anchor="middle" font-weight="normal" fill="#222" >CTH</text>
<text x="70.5" y="349.44" font-size="8.0" text-anchor="middle" font-weight="normal" fill="#222" >M</text>
<text x="101.7" y="349.27" font-size="7.8" text-anchor="middle" font-weight="normal" fill="#222" >HD serum</text>
<line x1="83.3" y1="351.4" x2="120.5" y2="351.4" stroke="#222" stroke-width="1.3" />
<text x="149.8" y="349.17" font-size="7.8" text-anchor="middle" font-weight="normal" fill="#222" >Mock-depl.</text>
<line x1="129.2" y1="351.4" x2="171.3" y2="351.4" stroke="#222" stroke-width="1.3" />
<text x="200.8" y="349.17" font-size="7.8" text-anchor="middle" font-weight="normal" fill="#222" >FSAP-depl.</text>
<line x1="179.1" y1="351.4" x2="222.4" y2="351.4" stroke="#222" stroke-width="1.3" />
<text x="7.8" y="360.24" font-size="8.0" text-anchor="start" font-weight="normal" fill="#222" >Serum (%):</text>
<text x="53.3" y="360.74" font-size="8.0" text-anchor="middle" font-weight="normal" fill="#222" >-</text>
<text x="70.8" y="360.74" font-size="8.0" text-anchor="middle" font-weight="normal" fill="#222" >-</text>
<text x="85.5" y="360.74" font-size="8.0" text-anchor="middle" font-weight="normal" fill="#222" >20</text>
<text x="102.3" y="360.74" font-size="8.0" text-anchor="middle" font-weight="normal" fill="#222" >10</text>
<text x="118.8" y="360.74" font-size="8.0" text-anchor="middle" font-weight="normal" fill="#222" >5</text>
<text x="137.3" y="360.74" font-size="8.0" text-anchor="middle" font-weight="normal" fill="#222" >20</text>
<text x="152.5" y="360.74" font-size="8.0" text-anchor="middle" font-weight="normal" fill="#222" >10</text>
<text x="166.2" y="360.74" font-size="8.0" text-anchor="middle" font-weight="normal" fill="#222" >5</text>
<text x="183.5" y="360.74" font-size="8.0" text-anchor="middle" font-weight="normal" fill="#222" >20</text>
<text x="200.2" y="360.74" font-size="8.0" text-anchor="middle" font-weight="normal" fill="#222" >10</text>
<text x="214.6" y="360.74" font-size="8.0" text-anchor="middle" font-weight="normal" fill="#222" >5</text>
<rect x="43.8" y="362.4" width="179" height="91.4" fill="#f6f6f6" stroke="#3a3a3a" stroke-width="1.0" />
<rect x="47.25" y="364" width="12.5" height="88" fill="#ececec" filter="url(#b3)"/>
<rect x="63.75" y="364" width="12.5" height="88" fill="#ececec" filter="url(#b3)"/>
<rect x="76.75" y="364" width="12.5" height="88" fill="#ececec" filter="url(#b3)"/>
<rect x="93.45" y="364" width="12.5" height="88" fill="#ececec" filter="url(#b3)"/>
<rect x="111.55" y="364" width="12.5" height="88" fill="#ececec" filter="url(#b3)"/>
<rect x="127.75" y="364" width="12.5" height="88" fill="#ececec" filter="url(#b3)"/>
<rect x="143.75" y="364" width="12.5" height="88" fill="#ececec" filter="url(#b3)"/>
<rect x="160.75" y="364" width="12.5" height="88" fill="#ececec" filter="url(#b3)"/>
<rect x="176.75" y="364" width="12.5" height="88" fill="#ececec" filter="url(#b3)"/>
<rect x="192.25" y="364" width="12.5" height="88" fill="#ececec" filter="url(#b3)"/>
<rect x="209.15" y="364" width="12.5" height="88" fill="#ececec" filter="url(#b3)"/>
<rect x="47.25" y="395" width="12.5" height="20" fill="#dedede" filter="url(#b3)"/>
<rect x="45.90" y="381.90" width="15.40" height="5.20" rx="2.00" fill="#0a0a0a" opacity="1.0" filter="url(#b2)"/>
<rect x="45.90" y="389.90" width="15.40" height="3.20" rx="1.60" fill="#8a8a8a" opacity="1.0" filter="url(#b2)"/>
<rect x="45.90" y="413.60" width="15.40" height="5.20" rx="2.00" fill="#050505" opacity="1.0" filter="url(#b2)"/>
<rect x="45.90" y="416.70" width="15.40" height="4.60" rx="2.00" fill="#151515" opacity="1.0" filter="url(#b2)"/>
<rect x="45.90" y="419.50" width="15.40" height="4.20" rx="2.00" fill="#111" opacity="1.0" filter="url(#b2)"/>
<rect x="45.90" y="430.20" width="15.40" height="3.00" rx="1.50" fill="#b4b4b4" opacity="1.0" filter="url(#b2)"/>
<rect x="64.40" y="365.80" width="11.70" height="3.20" rx="1.60" fill="#555" opacity="1.0" filter="url(#b2)"/>
<rect x="64.40" y="369.10" width="11.70" height="2.60" rx="1.30" fill="#7a7a7a" opacity="1.0" filter="url(#b2)"/>
<rect x="64.40" y="379.30" width="11.70" height="2.80" rx="1.40" fill="#808080" opacity="1.0" filter="url(#b2)"/>
<rect x="64.40" y="401.00" width="11.70" height="3.00" rx="1.50" fill="#7a7a7a" opacity="1.0" filter="url(#b2)"/>
<rect x="64.40" y="410.50" width="11.70" height="2.60" rx="1.30" fill="#9a9a9a" opacity="1.0" filter="url(#b2)"/>
<rect x="64.40" y="425.50" width="11.70" height="2.60" rx="1.30" fill="#b8b8b8" opacity="1.0" filter="url(#b2)"/>
<rect x="64.40" y="443.90" width="11.70" height="2.60" rx="1.30" fill="#c5c5c5" opacity="1.0" filter="url(#b2)"/>
<rect x="76.20" y="391.60" width="13.60" height="2.80" rx="1.40" fill="#bdbdbd" opacity="1.0" filter="url(#b2)"/>
<rect x="76.20" y="401.70" width="13.60" height="2.60" rx="1.30" fill="#dcdcdc" opacity="1.0" filter="url(#b2)"/>
<rect x="76.20" y="431.70" width="13.60" height="4.20" rx="2.00" fill="#111" opacity="1.0" filter="url(#b2)"/>
<rect x="76.20" y="438.30" width="13.60" height="3.40" rx="1.70" fill="#5a5a5a" opacity="1.0" filter="url(#b2)"/>
<rect x="92.10" y="393.00" width="15.20" height="3.00" rx="1.50" fill="#8a8a8a" opacity="1.0" filter="url(#b2)"/>
<rect x="92.10" y="403.40" width="15.20" height="2.80" rx="1.40" fill="#bdbdbd" opacity="1.0" filter="url(#b2)"/>
<rect x="92.10" y="418.30" width="15.20" height="4.60" rx="2.00" fill="#a8a8a8" opacity="1.0" filter="url(#b2)"/>
<rect x="92.10" y="425.30" width="15.20" height="3.00" rx="1.50" fill="#b0b0b0" opacity="1.0" filter="url(#b2)"/>
<rect x="92.10" y="431.30" width="15.20" height="5.00" rx="2.00" fill="#000" opacity="1.0" filter="url(#b2)"/>
<rect x="92.10" y="438.70" width="15.20" height="3.20" rx="1.60" fill="#9a9a9a" opacity="1.0" filter="url(#b2)"/>
<rect x="110.60" y="385.90" width="14.40" height="2.60" rx="1.30" fill="#b5b5b5" opacity="1.0" filter="url(#b2)"/>
<rect x="110.60" y="393.80" width="14.40" height="3.40" rx="1.70" fill="#333" opacity="1.0" filter="url(#b2)"/>
<rect x="110.60" y="401.70" width="14.40" height="2.60" rx="1.30" fill="#c0c0c0" opacity="1.0" filter="url(#b2)"/>
<rect x="110.60" y="418.40" width="14.40" height="3.80" rx="1.90" fill="#000" opacity="1.0" filter="url(#b2)"/>
<rect x="110.60" y="423.10" width="14.40" height="3.20" rx="1.60" fill="#222" opacity="1.0" filter="url(#b2)"/>
<rect x="110.60" y="430.20" width="14.40" height="3.00" rx="1.50" fill="#8a8a8a" opacity="1.0" filter="url(#b2)"/>
<rect x="110.60" y="433.90" width="14.40" height="2.60" rx="1.30" fill="#a0a0a0" opacity="1.0" filter="url(#b2)"/>
<rect x="127.30" y="394.20" width="13.40" height="2.80" rx="1.40" fill="#bdbdbd" opacity="1.0" filter="url(#b2)"/>
<rect x="127.30" y="404.90" width="13.40" height="2.60" rx="1.30" fill="#cfcfcf" opacity="1.0" filter="url(#b2)"/>
<rect x="127.30" y="433.40" width="13.40" height="4.00" rx="2.00" fill="#1e1e1e" opacity="1.0" filter="url(#b2)"/>
<rect x="127.30" y="441.10" width="13.40" height="3.20" rx="1.60" fill="#6a6a6a" opacity="1.0" filter="url(#b2)"/>
<rect x="142.90" y="394.70" width="14.20" height="3.00" rx="1.50" fill="#999" opacity="1.0" filter="url(#b2)"/>
<rect x="142.90" y="404.80" width="14.20" height="2.80" rx="1.40" fill="#bdbdbd" opacity="1.0" filter="url(#b2)"/>
<rect x="142.90" y="419.70" width="14.20" height="7.60" rx="2.00" fill="#b0b0b0" opacity="1.0" filter="url(#b2)"/>
<rect x="142.90" y="432.50" width="14.20" height="5.80" rx="2.00" fill="#000" opacity="1.0" filter="url(#b2)"/>
<rect x="142.90" y="441.10" width="14.20" height="3.20" rx="1.60" fill="#aaa" opacity="1.0" filter="url(#b2)"/>
<rect x="160.10" y="386.50" width="13.80" height="2.80" rx="1.40" fill="#cfcfcf" opacity="1.0" filter="url(#b2)"/>
<rect x="160.10" y="394.50" width="13.80" height="3.40" rx="1.70" fill="#262626" opacity="1.0" filter="url(#b2)"/>
<rect x="160.10" y="402.90" width="13.80" height="2.60" rx="1.30" fill="#cfcfcf" opacity="1.0" filter="url(#b2)"/>
<rect x="160.10" y="419.40" width="13.80" height="3.60" rx="1.80" fill="#000" opacity="1.0" filter="url(#b2)"/>
<rect x="160.10" y="423.80" width="13.80" height="3.20" rx="1.60" fill="#333" opacity="1.0" filter="url(#b2)"/>
<rect x="160.10" y="431.40" width="13.80" height="3.20" rx="1.60" fill="#9a9a9a" opacity="1.0" filter="url(#b2)"/>
<rect x="176.40" y="393.40" width="13.20" height="3.20" rx="1.60" fill="#444" opacity="1.0" filter="url(#b2)"/>
<rect x="176.40" y="404.70" width="13.20" height="2.60" rx="1.30" fill="#cfcfcf" opacity="1.0" filter="url(#b2)"/>
<rect x="176.40" y="417.70" width="13.20" height="3.80" rx="1.90" fill="#000" opacity="1.0" filter="url(#b2)"/>
<rect x="176.40" y="423.40" width="13.20" height="3.20" rx="1.60" fill="#444" opacity="1.0" filter="url(#b2)"/>
<rect x="176.40" y="431.60" width="13.20" height="2.80" rx="1.40" fill="#cfcfcf" opacity="1.0" filter="url(#b2)"/>
<rect x="191.70" y="393.40" width="13.60" height="3.20" rx="1.60" fill="#333" opacity="1.0" filter="url(#b2)"/>
<rect x="191.70" y="404.70" width="13.60" height="2.60" rx="1.30" fill="#cfcfcf" opacity="1.0" filter="url(#b2)"/>
<rect x="191.70" y="417.70" width="13.60" height="3.80" rx="1.90" fill="#111" opacity="1.0" filter="url(#b2)"/>
<rect x="191.70" y="423.40" width="13.60" height="3.20" rx="1.60" fill="#555" opacity="1.0" filter="url(#b2)"/>
<rect x="191.70" y="431.60" width="13.60" height="2.80" rx="1.40" fill="#cfcfcf" opacity="1.0" filter="url(#b2)"/>
<rect x="209.00" y="385.60" width="12.80" height="2.80" rx="1.40" fill="#dedede" opacity="1.0" filter="url(#b2)"/>
<rect x="209.00" y="393.10" width="12.80" height="3.00" rx="1.50" fill="#8a8a8a" opacity="1.0" filter="url(#b2)"/>
<rect x="209.00" y="416.90" width="12.80" height="3.60" rx="1.80" fill="#111" opacity="1.0" filter="url(#b2)"/>
<rect x="209.00" y="421.50" width="12.80" height="3.00" rx="1.50" fill="#555" opacity="1.0" filter="url(#b2)"/>
<text x="11.3" y="387.34" font-size="8.0" text-anchor="start" font-weight="normal" fill="#222" >H1</text>
<line x1="34.5" y1="384.5" x2="39.0" y2="384.5" stroke="#111" stroke-width="1.3" />
<path d="M37.30,382.30 L41.50,384.50 L37.30,386.70Z" fill="#111"/>
<text x="11.3" y="413.04" font-size="8.0" text-anchor="start" font-weight="normal" fill="#222" >H2b/H3</text>
<line x1="34.5" y1="415.2" x2="39.0" y2="415.2" stroke="#111" stroke-width="1.3" />
<path d="M37.30,413.00 L41.50,415.20 L37.30,417.40Z" fill="#111"/>
<text x="11.3" y="423.44" font-size="8.0" text-anchor="start" font-weight="normal" fill="#222" >H2A</text>
<line x1="34.5" y1="420.6" x2="39.0" y2="420.6" stroke="#111" stroke-width="1.3" />
<path d="M37.30,418.40 L41.50,420.60 L37.30,422.80Z" fill="#111"/>
<text x="11.3" y="434.24" font-size="8.0" text-anchor="start" font-weight="normal" fill="#222" >H4</text>
<line x1="34.5" y1="431.4" x2="39.0" y2="431.4" stroke="#111" stroke-width="1.3" />
<path d="M37.30,429.20 L41.50,431.40 L37.30,433.60Z" fill="#111"/>
<text x="225.6" y="372.84" font-size="8.0" text-anchor="start" font-weight="normal" fill="#222" >50</text>
<line x1="222.8" y1="370" x2="224.8" y2="370" stroke="#333" stroke-width="1.0" />
<text x="225.6" y="384.34" font-size="8.0" text-anchor="start" font-weight="normal" fill="#222" >37</text>
<line x1="222.8" y1="381.5" x2="224.8" y2="381.5" stroke="#333" stroke-width="1.0" />
<text x="225.6" y="406.14" font-size="8.0" text-anchor="start" font-weight="normal" fill="#222" >25</text>
<line x1="222.8" y1="403.3" x2="224.8" y2="403.3" stroke="#333" stroke-width="1.0" />
<text x="225.6" y="414.94" font-size="8.0" text-anchor="start" font-weight="normal" fill="#222" >20</text>
<line x1="222.8" y1="412.1" x2="224.8" y2="412.1" stroke="#333" stroke-width="1.0" />
<text x="225.6" y="429.14" font-size="8.0" text-anchor="start" font-weight="normal" fill="#222" >15</text>
<line x1="222.8" y1="426.3" x2="224.8" y2="426.3" stroke="#333" stroke-width="1.0" />
<text x="225.6" y="447.84" font-size="8.0" text-anchor="start" font-weight="normal" fill="#222" >10</text>
<line x1="222.8" y1="445" x2="224.8" y2="445" stroke="#333" stroke-width="1.0" />
<text x="225.3" y="456.34" font-size="8.0" text-anchor="start" font-weight="normal" fill="#222" >MW (kDa)</text>
<text x="274.6" y="335.6" font-size="11.8" text-anchor="start" font-weight="bold" fill="#000" style="stroke:#000;stroke-width:0.45px">H</text>
<line x1="309.8" y1="342.2" x2="309.8" y2="438.3" stroke="#111" stroke-width="1.3" />
<line x1="309.2" y1="437.7" x2="453.6" y2="437.7" stroke="#111" stroke-width="1.3" />
<line x1="306.8" y1="437.7" x2="309.8" y2="437.7" stroke="#111" stroke-width="1.1" />
<text x="303.3" y="440.61" font-size="8.2" text-anchor="end" font-weight="normal" fill="#2a2a2a" >0</text>
<line x1="306.8" y1="416.09999999999997" x2="309.8" y2="416.09999999999997" stroke="#111" stroke-width="1.1" />
<text x="303.3" y="419.01" font-size="8.2" text-anchor="end" font-weight="normal" fill="#2a2a2a" >25</text>
<line x1="306.8" y1="394.5" x2="309.8" y2="394.5" stroke="#111" stroke-width="1.1" />
<text x="303.3" y="397.41" font-size="8.2" text-anchor="end" font-weight="normal" fill="#2a2a2a" >50</text>
<line x1="306.8" y1="372.9" x2="309.8" y2="372.9" stroke="#111" stroke-width="1.1" />
<text x="303.3" y="375.81" font-size="8.2" text-anchor="end" font-weight="normal" fill="#2a2a2a" >75</text>
<line x1="306.8" y1="351.29999999999995" x2="309.8" y2="351.29999999999995" stroke="#111" stroke-width="1.1" />
<text x="303.3" y="354.21" font-size="8.2" text-anchor="end" font-weight="normal" fill="#2a2a2a" >100</text>
<text x="0" y="0" font-size="8.2" text-anchor="middle" fill="#1a1a1a" style="stroke:#1a1a1a;stroke-width:0.35px" transform="translate(283.31,389.4) rotate(-90)" textLength="41.5" lengthAdjust="spacingAndGlyphs">FSAP-AP (%)</text>
<line x1="319.75" y1="426.9" x2="319.75" y2="429.49199999999996" stroke="#1f3560" stroke-width="1.0" />
<line x1="317.75" y1="426.9" x2="321.75" y2="426.9" stroke="#1f3560" stroke-width="1.0" />
<rect x="315" y="429.49199999999996" width="9.5" height="8.208000000000027" fill="#2b4a7e" stroke="#1c3058" stroke-width="0.6" />
<line x1="332.5" y1="418.26" x2="332.5" y2="422.58" stroke="#1f3560" stroke-width="1.0" />
<line x1="330.5" y1="418.26" x2="334.5" y2="418.26" stroke="#1f3560" stroke-width="1.0" />
<rect x="328" y="422.58" width="9" height="15.120000000000005" fill="#2b4a7e" stroke="#1c3058" stroke-width="0.6" />
<line x1="345.65" y1="364.26" x2="345.65" y2="372.036" stroke="#1f3560" stroke-width="1.0" />
<line x1="343.65" y1="364.26" x2="347.65" y2="364.26" stroke="#1f3560" stroke-width="1.0" />
<rect x="340.8" y="372.036" width="9.699999999999989" height="65.66399999999999" fill="#2b4a7e" stroke="#1c3058" stroke-width="0.6" />
<line x1="357.9" y1="371.17199999999997" x2="357.9" y2="373.764" stroke="#1f3560" stroke-width="1.0" />
<line x1="355.9" y1="371.17199999999997" x2="359.9" y2="371.17199999999997" stroke="#1f3560" stroke-width="1.0" />
<rect x="353.3" y="373.764" width="9.199999999999989" height="63.93599999999998" fill="#2b4a7e" stroke="#1c3058" stroke-width="0.6" />
<rect x="365.8" y="351.29999999999995" width="9.699999999999989" height="86.40000000000003" fill="#2b4a7e" stroke="#1c3058" stroke-width="0.6" />
<line x1="319.8" y1="437.7" x2="319.8" y2="440.3" stroke="#111" stroke-width="1.0" />
<line x1="332.5" y1="437.7" x2="332.5" y2="440.3" stroke="#111" stroke-width="1.0" />
<line x1="345.6" y1="437.7" x2="345.6" y2="440.3" stroke="#111" stroke-width="1.0" />
<line x1="357.9" y1="437.7" x2="357.9" y2="440.3" stroke="#111" stroke-width="1.0" />
<line x1="370.6" y1="437.7" x2="370.6" y2="440.3" stroke="#111" stroke-width="1.0" />
<line x1="391.6" y1="437.7" x2="391.6" y2="440.3" stroke="#111" stroke-width="1.0" />
<line x1="404" y1="437.7" x2="404" y2="440.3" stroke="#111" stroke-width="1.0" />
<line x1="416.7" y1="437.7" x2="416.7" y2="440.3" stroke="#111" stroke-width="1.0" />
<line x1="429.7" y1="437.7" x2="429.7" y2="440.3" stroke="#111" stroke-width="1.0" />
<line x1="442.7" y1="437.7" x2="442.7" y2="440.3" stroke="#111" stroke-width="1.0" />
<rect x="387.1" y="436.5" width="9" height="0.9" fill="#5a2a44" stroke="none" stroke-width="1" />
<rect x="399.5" y="436.5" width="9" height="0.9" fill="#5a2a44" stroke="none" stroke-width="1" />
<rect x="412.2" y="436.5" width="9" height="0.9" fill="#5a2a44" stroke="none" stroke-width="1" />
<rect x="425.2" y="436.5" width="9" height="0.9" fill="#5a2a44" stroke="none" stroke-width="1" />
<rect x="438.2" y="436.5" width="9" height="0.9" fill="#5a2a44" stroke="none" stroke-width="1" />
<text x="277.5" y="451.74" font-size="8.0" text-anchor="start" font-weight="normal" fill="#222" ><tspan font-style='italic'>t</tspan> (min):</text>
<text x="320" y="451.74" font-size="8.0" text-anchor="middle" font-weight="normal" fill="#222" >-</text>
<text x="332.5" y="451.74" font-size="8.0" text-anchor="middle" font-weight="normal" fill="#222" >0</text>
<text x="345" y="451.74" font-size="8.0" text-anchor="middle" font-weight="normal" fill="#222" >2</text>
<text x="357.5" y="451.74" font-size="8.0" text-anchor="middle" font-weight="normal" fill="#222" >5</text>
<text x="370.5" y="451.74" font-size="8.0" text-anchor="middle" font-weight="normal" fill="#222" >30</text>
<text x="391.6" y="451.74" font-size="8.0" text-anchor="middle" font-weight="normal" fill="#222" >-</text>
<text x="404" y="451.74" font-size="8.0" text-anchor="middle" font-weight="normal" fill="#222" >0</text>
<text x="416.7" y="451.74" font-size="8.0" text-anchor="middle" font-weight="normal" fill="#222" >2</text>
<text x="429.7" y="451.74" font-size="8.0" text-anchor="middle" font-weight="normal" fill="#222" >5</text>
<text x="442.7" y="451.74" font-size="8.0" text-anchor="middle" font-weight="normal" fill="#222" >30</text>
<rect x="386.9" y="345" width="11.2" height="5.6" fill="#2b4a7e" stroke="#1c3058" stroke-width="0.5" />
<rect x="386.9" y="355.1" width="11.2" height="5.6" fill="#a8062a" stroke="#7a0a20" stroke-width="0.5" />
<text x="401.2" y="350.16" font-size="7.2" text-anchor="start" font-weight="normal" fill="#222" >Healthy donor serum</text>
<text x="401.2" y="360.36" font-size="7.2" text-anchor="start" font-weight="normal" fill="#222" >FSAP-depl. serum</text>
<rect x="325.0" y="455.8" width="50.9" height="22.2" fill="#f5f5f5" stroke="#4a4a4a" stroke-width="1.0" />
<rect x="326.20" y="464.60" width="10.50" height="3.40" rx="1.70" fill="#000" opacity="1.0" filter="url(#b1)"/>
<rect x="338.50" y="465.20" width="11.00" height="2.80" rx="1.40" fill="#dadada" opacity="1.0" filter="url(#b2)"/>
<text x="298.6" y="469.7" font-size="7.6" text-anchor="start" font-weight="normal" fill="#222" >H3</text>
<line x1="311.5" y1="466.8" x2="319.1" y2="466.8" stroke="#111" stroke-width="1.3" />
<path d="M317.40,464.60 L321.60,466.80 L317.40,469.00Z" fill="#111"/>
<rect x="399.5" y="456" width="50.1" height="21.9" fill="#f3f3f3" stroke="#4a4a4a" stroke-width="1.0" />
<rect x="400.20" y="465.20" width="9.80" height="2.00" rx="1.00" fill="#707070" opacity="1.0" filter="url(#b1)"/>
<rect x="412.80" y="465.10" width="9.50" height="2.20" rx="1.10" fill="#707070" opacity="1.0" filter="url(#b1)"/>
<rect x="424.70" y="464.50" width="9.80" height="3.00" rx="1.50" fill="#0a0a0a" opacity="1.0" filter="url(#b1)"/>
<rect x="437.80" y="464.90" width="9.80" height="2.20" rx="1.10" fill="#909090" opacity="1.0" filter="url(#b1)"/>
<text x="376.3" y="469.7" font-size="7.6" text-anchor="start" font-weight="normal" fill="#222" >H3</text>
<line x1="387.4" y1="466.6" x2="395.5" y2="466.6" stroke="#111" stroke-width="1.3" />
<path d="M393.80,464.40 L398.00,466.60 L393.80,468.80Z" fill="#111"/>
<text x="7.2" y="480.4" font-size="11.8" text-anchor="start" font-weight="bold" fill="#000" style="stroke:#000;stroke-width:0.45px">I</text>
<text x="60.4" y="494.44" font-size="8.0" text-anchor="middle" font-weight="normal" fill="#222" >healthy donor</text>
<text x="60.6" y="504.54" font-size="8.0" text-anchor="middle" font-weight="normal" fill="#222" >serum</text>
<line x1="32.9" y1="507.3" x2="84.8" y2="507.3" stroke="#222" stroke-width="1.3" />
<text x="117" y="494.44" font-size="8.0" text-anchor="middle" font-weight="normal" fill="#222" >citrate plasma</text>
<text x="116.7" y="504.54" font-size="8.0" text-anchor="middle" font-weight="normal" fill="#222" >pool</text>
<line x1="90.4" y1="507.3" x2="137.5" y2="507.3" stroke="#222" stroke-width="1.3" />
<text x="7.8" y="515.74" font-size="8.0" text-anchor="start" font-weight="normal" fill="#222" ><tspan font-style='italic'>t</tspan> (min):</text>
<text x="38.4" y="515.74" font-size="8.0" text-anchor="middle" font-weight="normal" fill="#222" >0</text>
<text x="52.8" y="515.74" font-size="8.0" text-anchor="middle" font-weight="normal" fill="#222" >2</text>
<text x="65.8" y="515.74" font-size="8.0" text-anchor="middle" font-weight="normal" fill="#222" >5</text>
<text x="80.5" y="515.74" font-size="8.0" text-anchor="middle" font-weight="normal" fill="#222" >30</text>
<text x="94.2" y="515.74" font-size="8.0" text-anchor="middle" font-weight="normal" fill="#222" >0</text>
<text x="107.3" y="515.74" font-size="8.0" text-anchor="middle" font-weight="normal" fill="#222" >2</text>
<text x="120.7" y="515.74" font-size="8.0" text-anchor="middle" font-weight="normal" fill="#222" >5</text>
<text x="134" y="515.74" font-size="8.0" text-anchor="middle" font-weight="normal" fill="#222" >30</text>
<rect x="31.8" y="520.2" width="107.6" height="17.7" fill="#f5f5f5" stroke="#3a3a3a" stroke-width="1.0" />
<rect x="33.80" y="527.60" width="11.00" height="3.80" rx="1.90" fill="#000" opacity="1.0" filter="url(#b1)"/>
<rect x="47.60" y="528.60" width="10.80" height="3.00" rx="1.50" fill="#7a7a7a" opacity="1.0" filter="url(#b2)"/>
<rect x="60.80" y="529.10" width="11.40" height="3.60" rx="1.80" fill="#a8a8a8" opacity="1.0" filter="url(#b2)"/>
<rect x="75.50" y="529.50" width="10.50" height="3.00" rx="1.50" fill="#dadada" opacity="1.0" filter="url(#b2)"/>
<rect x="89.20" y="527.60" width="10.80" height="3.80" rx="1.90" fill="#000" opacity="1.0" filter="url(#b1)"/>
<rect x="102.40" y="528.30" width="10.40" height="3.20" rx="1.60" fill="#2e2e2e" opacity="1.0" filter="url(#b2)"/>
<rect x="115.50" y="528.80" width="10.90" height="2.80" rx="1.40" fill="#b0b0b0" opacity="1.0" filter="url(#b2)"/>
<rect x="129.40" y="528.60" width="8.60" height="2.80" rx="1.40" fill="#c0c0c0" opacity="1.0" filter="url(#b2)"/>
<line x1="143.9" y1="529.2" x2="151" y2="529.2" stroke="#111" stroke-width="1.3" />
<path d="M145.60,527.00 L141.40,529.20 L145.60,531.40Z" fill="#111"/>
<text x="152.7" y="532.11" font-size="8.2" text-anchor="start" font-weight="normal" fill="#222" >H3</text>
<rect x="0" y="0" width="520" height="1.4" fill="#000"/>
<rect x="0" y="0" width="1.8" height="546" fill="#000"/>
<rect x="518.6" y="0" width="1.4" height="546" fill="#000"/>
<rect x="0" y="544.3" width="520" height="1.7" fill="#000"/>
</svg>
</body></html>
